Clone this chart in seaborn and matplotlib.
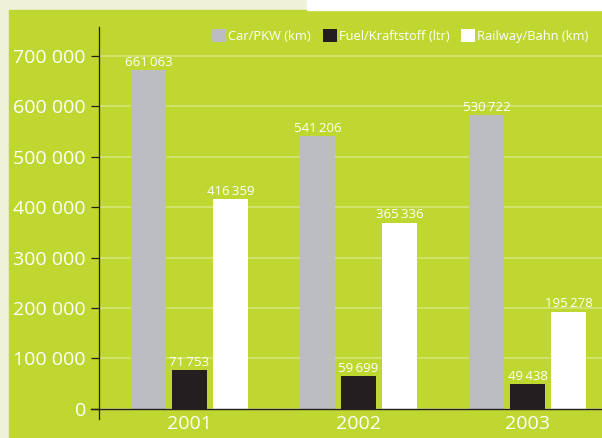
import numpy as np
import pandas as pd
import matplotlib
matplotlib.use("Agg")
from matplotlib import pyplot as plt
from matplotlib.patches import Rectangle
import seaborn as sns

# values (bar heights as drawn) and the printed labels
years = ["2001", "2002", "2003"]
series = ["Car/PKW (km)", "Fuel/Kraftstoff (ltr)", "Railway/Bahn (km)"]
car_km = [672000, 541000, 582000]
fuel_ltr = [77000, 64000, 48500]
rail_km = [416000, 369000, 192500]
car_labels = ["661\u2009063", "541\u2009206", "530\u2009722"]
fuel_labels = ["71\u2009753", "59\u2009699", "49\u2009438"]
rail_labels = ["416\u2009359", "365\u2009336", "195\u2009278"]
y_ticks = [0, 100000, 200000, 300000, 400000, 500000, 600000, 700000]
y_tick_labels = ["0", "100 000", "200 000", "300 000", "400 000",
                 "500 000", "600 000", "700 000"]

green = "#bfd730"
beige = "#eff2d8"
dark = "#231f20"
bar_colors = ["#bcbdc0", dark, "#ffffff"]

plt.rcParams["font.family"] = ["Open Sans", "DejaVu Sans"]

df = pd.DataFrame({
    "year": years * 3,
    "series": np.repeat(series, len(years)),
    "value": car_km + fuel_ltr + rail_km,
})

W, H = 602, 438
fig = plt.figure(figsize=(W / 100, H / 100), dpi=100, facecolor=beige)
# green panel and white strip at the top, behind the axes
fig.add_artist(Rectangle((9 / W, 0), (W - 9) / W, (H - 10) / H,
                         transform=fig.transFigure, color=green, zorder=-5))
fig.add_artist(Rectangle((307 / W, (H - 10) / H), (W - 307) / W, 10 / H,
                         transform=fig.transFigure, color="white", zorder=-5))

ax = fig.add_axes([99 / W, (H - 419) / H, (W - 99) / W, (419 - 27.3) / H])
ax.set_facecolor(green)

sns.barplot(data=df, x="year", y="value", hue="series", order=years,
            hue_order=series, palette=bar_colors, saturation=1,
            width=0.728, gap=0.146, linewidth=0, errorbar=None,
            ax=ax, legend=True, zorder=3)

for cont, labs in zip(ax.containers, [car_labels, fuel_labels, rail_labels]):
    ax.bar_label(cont, labels=labs, padding=1, color="white", fontsize=9.5)

ax.set_xlim(-0.5355, 2.441)
ax.set_ylim(-20400, 756700)
ax.set_yticks(y_ticks)
ax.set_yticklabels(y_tick_labels)
ax.yaxis.grid(True, color="white", alpha=0.35, linewidth=1.2)
ax.set_axisbelow(True)
ax.tick_params(axis="y", length=6, width=0.9, color=dark, pad=3.5,
               labelcolor="white", labelsize=14)
ax.tick_params(axis="x", length=0, pad=-3, labelcolor="white", labelsize=14)
ax.set_xlabel("")
ax.set_ylabel("")
for s in ["top", "right", "bottom"]:
    ax.spines[s].set_visible(False)
ax.spines["left"].set_color(dark)
ax.spines["left"].set_linewidth(0.9)
ax.axhline(0, xmin=-0.016, xmax=1, color=dark, linewidth=1.0,
           clip_on=False, zorder=4)

handles, labels = ax.get_legend_handles_labels()
ax.get_legend().remove()
fig.legend(handles, labels, loc="center left",
           bbox_to_anchor=(212 / W, 1 - 36 / H), ncol=3, frameon=False,
           fontsize=9.3, labelcolor="white", handlelength=1.1,
           handleheight=1.2, handletextpad=0.15, columnspacing=0.9,
           borderpad=0, borderaxespad=0)

fig.savefig("out.png", dpi=100, facecolor=beige)
